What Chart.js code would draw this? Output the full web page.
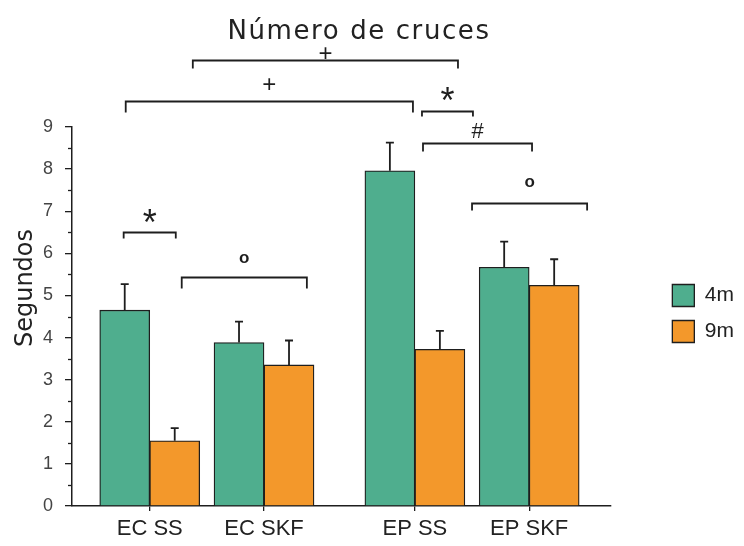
<!DOCTYPE html>
<html>
<head>
<meta charset="utf-8">
<script src="https://cdn.jsdelivr.net/npm/chart.js@4.4.1/dist/chart.umd.min.js"></script>
<style>
  html, body { margin: 0; padding: 0; background: #ffffff; }
  #wrap { width: 744px; height: 546px; position: relative; }
</style>
</head>
<body>
<div id="wrap"><canvas id="chart"></canvas></div>
<script>
// Groups along the x axis and where each group sits on the (linear) x scale
const categories = ['EC SS', 'EC SKF', 'EP SS', 'EP SKF'];
const groupPositions = [1, 2, 3.32, 4.32];

// Series
const seriesNames = ['4m', '9m'];
const values4m = [4.65, 3.88, 7.96, 5.67];
const values9m = [1.55, 3.35, 3.72, 5.24];
const err4m = [0.62, 0.50, 0.67, 0.61];
const err9m = [0.30, 0.58, 0.44, 0.62];

// Value axis
const yMin = 0;
const yMax = 9;

// Significance brackets: span in x-scale units, level in axis units
const brackets = [
  { text: '+', from: 1.377, to: 3.697, level: 10.59, drop: 8, gap: 8,  font: '24px' },
  { text: '+', from: 0.790, to: 3.303, level: 9.62,  drop: 11, gap: 18, font: '24px' },
  { text: '*', from: 3.382, to: 3.828, level: 9.38,  drop: 5, gap: 18, font: '36px' },
  { text: '#', from: 3.391, to: 4.345, level: 8.62,  drop: 8, gap: 13, font: '22px' },
  { text: 'o', from: 3.820, to: 4.827, level: 7.20,  drop: 7, gap: 21, font: 'bold 17px' },
  { text: 'o', from: 1.280, to: 2.375, level: 5.44,  drop: 11, gap: 19, font: 'bold 17px' },
  { text: '*', from: 0.772, to: 1.228, level: 6.51,  drop: 6, gap: 17, font: '36px' }
];

const GREEN = '#4fae8e';
const ORANGE = '#f3982b';
const INK = '#1e1e1e';
const SANS = '"Liberation Sans", Arial, sans-serif';

const toPoints = (vals) => vals.map((v, i) => ({ x: groupPositions[i], y: v }));

const decorations = {
  id: 'decorations',
  afterLayout(chart) {
    // keep the legend against the right edge, level with the plot
    const lg = chart.legend;
    if (lg) {
      const dx = chart.width - lg.right;
      lg.left += dx; lg.right += dx;
      lg.top -= 3; lg.bottom -= 3;
    }
  },
  afterDatasetsDraw(chart) {
    const { ctx } = chart;
    const ys = chart.scales.y;
    ctx.save();
    ctx.strokeStyle = INK;
    ctx.lineWidth = 1.8;
    [err4m, err9m].forEach((errs, di) => {
      const meta = chart.getDatasetMeta(di);
      const data = chart.data.datasets[di].data;
      meta.data.forEach((bar, i) => {
        const v = data[i].y;
        const base = ys.getPixelForValue(v);
        const top = ys.getPixelForValue(v + errs[i]);
        ctx.beginPath();
        ctx.moveTo(bar.x, base);
        ctx.lineTo(bar.x, top);
        ctx.moveTo(bar.x - 4, top);
        ctx.lineTo(bar.x + 4, top);
        ctx.stroke();
      });
    });
    ctx.restore();
  },
  afterDraw(chart) {
    const { ctx } = chart;
    const xs = chart.scales.x;
    const ys = chart.scales.y;
    ctx.save();

    // minor ticks on the value axis
    ctx.strokeStyle = INK;
    ctx.lineWidth = 1.3;
    const ax = ys.right;
    for (let v = yMin + 0.5; v < yMax; v += 1) {
      const py = Math.round(ys.getPixelForValue(v)) + 0.5;
      ctx.beginPath();
      ctx.moveTo(ax, py);
      ctx.lineTo(ax - 4, py);
      ctx.stroke();
    }

    // significance brackets
    ctx.lineWidth = 1.8;
    ctx.fillStyle = INK;
    ctx.textAlign = 'center';
    ctx.textBaseline = 'alphabetic';
    brackets.forEach(b => {
      const x1 = xs.getPixelForValue(b.from);
      const x2 = xs.getPixelForValue(b.to);
      const yy = Math.round(ys.getPixelForValue(b.level)) + 0.5;
      ctx.beginPath();
      ctx.moveTo(x1, yy + b.drop);
      ctx.lineTo(x1, yy);
      ctx.lineTo(x2, yy);
      ctx.lineTo(x2, yy + b.drop);
      ctx.stroke();
      ctx.font = b.font + ' ' + SANS;
      const m = ctx.measureText(b.text);
      const cy = yy - b.gap;
      const baseline = cy + (m.actualBoundingBoxAscent - m.actualBoundingBoxDescent) / 2;
      ctx.fillText(b.text, (x1 + x2) / 2, baseline);
    });

    // chart title
    ctx.fillStyle = '#222222';
    ctx.font = '26px "DejaVu Sans", sans-serif';
    if ('letterSpacing' in ctx) ctx.letterSpacing = '1.6px';
    ctx.textAlign = 'center';
    ctx.textBaseline = 'alphabetic';
    ctx.fillText('Número de cruces', 359, 39);
    if ('letterSpacing' in ctx) ctx.letterSpacing = '0px';

    // value axis title
    ctx.save();
    ctx.translate(26, 288);
    ctx.rotate(-Math.PI / 2);
    ctx.font = '24px "DejaVu Sans", sans-serif';
    ctx.textBaseline = 'middle';
    ctx.fillText('Segundos', 0, 0);
    ctx.restore();

    ctx.restore();
  }
};

new Chart(document.getElementById('chart'), {
  type: 'bar',
  data: {
    datasets: [
      { label: seriesNames[0], data: toPoints(values4m), backgroundColor: GREEN, borderColor: INK, borderWidth: 1.3 },
      { label: seriesNames[1], data: toPoints(values9m), backgroundColor: ORANGE, borderColor: INK, borderWidth: 1.3 }
    ]
  },
  options: {
    responsive: true,
    maintainAspectRatio: false,
    animation: false,
    devicePixelRatio: 1,
    barThickness: 50,
    layout: { padding: { top: 127, left: 0, right: 48, bottom: 0 } },
    plugins: {
      title: { display: false },
      tooltip: { enabled: false },
      legend: {
        position: 'right',
        fullSize: false,
        align: 'center',
        labels: {
          boxWidth: 22,
          boxHeight: 22,
          padding: 14,
          color: '#222222',
          font: { family: SANS, size: 21 }
        }
      }
    },
    scales: {
      x: {
        type: 'linear',
        min: 0.32,
        max: 5.03,
        offset: false,
        afterBuildTicks: (scale) => { scale.ticks = groupPositions.map(v => ({ value: v })); },
        afterFit: (scale) => { scale.height = 40; },
        ticks: {
          autoSkip: false,
          maxRotation: 0,
          padding: 5,
          color: '#222222',
          font: { family: SANS, size: 22 },
          callback: (value, index) => categories[index]
        },
        grid: { offset: false, drawOnChartArea: false, drawTicks: true, tickLength: 5, color: INK, lineWidth: 1.3 },
        border: { display: true, color: INK, width: 1.5 }
      },
      y: {
        type: 'linear',
        min: yMin,
        max: yMax,
        afterFit: (scale) => { scale.width = 72; },
        ticks: {
          stepSize: 1,
          padding: 12,
          color: '#444444',
          font: { family: SANS, size: 18 }
        },
        grid: { drawOnChartArea: false, drawTicks: true, tickLength: 7, color: INK, lineWidth: 1.3 },
        border: { display: true, color: INK, width: 1.5 }
      }
    }
  },
  plugins: [decorations]
});
</script>
</body>
</html>
